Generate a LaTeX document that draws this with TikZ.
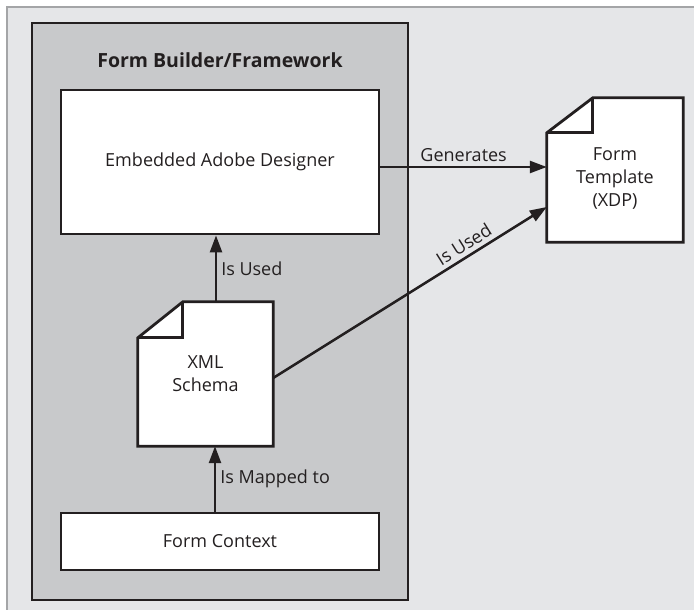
\documentclass[tikz,border=0pt]{standalone}
\usepackage{fontspec}
\setmainfont{Open Sans}
\usetikzlibrary{arrows.meta,backgrounds}
\definecolor{ink}{HTML}{231F20}
\definecolor{paper}{HTML}{E5E6E8}
\definecolor{frameline}{HTML}{A4A5A7}
\definecolor{panel}{HTML}{C8C9CB}
\tikzset{
  boxline/.style={draw=ink, line width=2.8pt, line join=miter},
  plainbox/.style={boxline, fill=white, rectangle, inner sep=0pt},
  docnode/.style={rectangle, inner sep=0pt, align=center},
  txt/.style={text=ink, font=\fontsize{18}{23}\selectfont},
  flow/.style={draw=ink, line width=2.5pt, -{Triangle[length=17pt,width=12pt]}},
  flowlabel/.style={txt, inner sep=4pt},
}
% white sheet with a folded top-left corner around a node
\newcommand\sheetoutline[3]{%
  \draw[boxline, fill=white]
    (#1.south west) -- ([yshift=-#3]#1.north west) -- ([xshift=#2]#1.north west)
    -- (#1.north east) -- (#1.south east) -- cycle;
  \draw[boxline]
    ([xshift=#2]#1.north west) -- ([xshift=#2,yshift=-#3]#1.north west)
    -- ([yshift=-#3]#1.north west);
}
\begin{document}
\begin{tikzpicture}[x=1pt, y=-1pt]
\useasboundingbox (0,0) rectangle (694,610);

% component boxes
\node[plainbox, txt, minimum width=318pt, minimum height=144pt] (des) at (220,162) {Embedded Adobe Designer};
\node[plainbox, txt, minimum width=318pt, minimum height=57pt] (ctx) at (220,541.5) {Form Context};
\node[docnode, txt, minimum width=135pt, minimum height=144pt] (xml) at (205.5,374) {XML\\Schema};
\node[docnode, txt, minimum width=136pt, minimum height=144pt,
      label={[txt, align=center, yshift=-8pt]center:Form\\Template\\(XDP)}] (tmpl) at (615,170) {};
\node[text=ink, font=\bfseries\fontsize{19.5}{23}\selectfont] (title) at (220,60) {Form Builder/Framework};

\begin{scope}[on background layer]
  \fill[paper] (7,7) rectangle (694,610);
  \draw[frameline, line width=1.2pt] (7,610) -- (7,7) -- (694,7);
  \draw[boxline, fill=panel] (32,23) rectangle (408,600);
  \sheetoutline{xml}{45pt}{36pt}
  \sheetoutline{tmpl}{46pt}{35pt}
\end{scope}

% connectors
\draw[flow] ([xshift=-5pt]ctx.north) -- ([xshift=-5pt]ctx.north |- xml.south)
  node[flowlabel, midway, right] {Is Mapped to};
\draw[flow] ([xshift=10.5pt]xml.north) -- ([xshift=10.5pt]xml.north |- des.south)
  node[flowlabel, midway, right] {Is Used};
\draw[flow] ([yshift=-5pt]des.east) -- ([yshift=-5pt]des.east -| tmpl.west)
  node[flowlabel, midway, above] {Generates};
\draw[flow] ([yshift=-4pt]xml.east) -- ([yshift=-37pt]tmpl.west)
  node[flowlabel, pos=0.72, sloped, above] {Is Used};
\end{tikzpicture}
\end{document}
